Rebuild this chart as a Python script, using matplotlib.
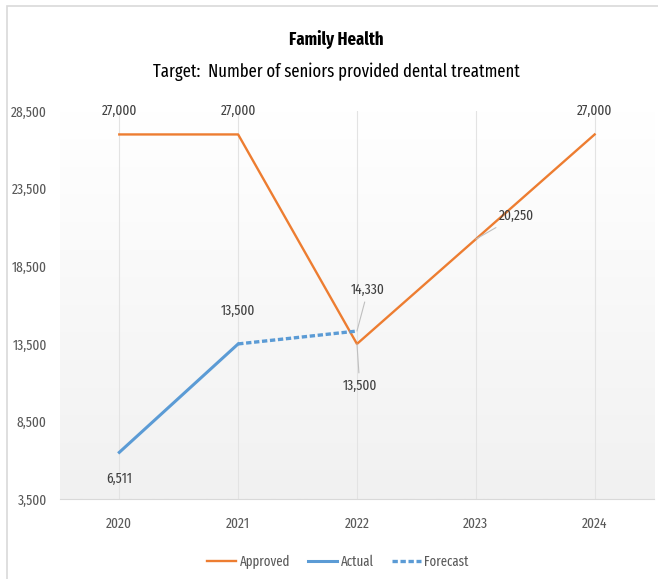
import numpy as np
import matplotlib
matplotlib.use("Agg")
import matplotlib.pyplot as plt
from matplotlib.patches import Rectangle
from matplotlib.colors import LinearSegmentedColormap

plt.rcParams['font.family'] = ['Fira Sans Extra Condensed', 'Carlito', 'DejaVu Sans']

years = ["2020", "2021", "2022", "2023", "2024"]
approved = [27000, 27000, 13500, 20250, 27000]
actual_idx = [0, 1]
actual = [6511, 13500]
forecast_idx = [1, 2]
forecast = [13500, 14330]
yticks = [3500, 8500, 13500, 18500, 23500, 28500]

orange = "#ED7D31"
blue = "#5B9BD5"
grey_txt = "#595959"

fig = plt.figure(figsize=(6.58, 5.79), dpi=100)
# chart border (only the top and left edges show in the picture)
fig.patches.append(Rectangle((0.011, -0.1), 1.1, 1.089, transform=fig.transFigure,
                             fill=False, edgecolor="#d9d9d9", linewidth=1.2))

ax = fig.add_axes([0.091, 0.138, 0.903, 0.670])
x = np.arange(len(years))
ax.set_xlim(-0.5, 4.5)
ax.set_ylim(3500, 28500)

# gradient background, white at top to light grey at bottom
cmap = LinearSegmentedColormap.from_list("g", ["#f1f1f1", "#ffffff"])
grad = np.linspace(1.0, 0.0, 256).reshape(-1, 1)
ax.imshow(grad, extent=[-0.5, 4.5, 3500, 28500], aspect="auto", cmap=cmap,
          origin="upper", zorder=0, vmin=0, vmax=1)

for xi in x:
    ax.axvline(xi, color="#e3e3e3", linewidth=0.8, zorder=1)

ax.plot(x, approved, color=orange, linewidth=1.7, label="Approved", zorder=3)
ax.plot(actual_idx, actual, color=blue, linewidth=2.2, label="Actual", zorder=3)
ax.plot(forecast_idx, forecast, color=blue, linewidth=2.4, linestyle=(0, (1.6, 0.8)), label="Forecast", zorder=3)

for s in ["top", "right", "left"]:
    ax.spines[s].set_visible(False)
ax.spines["bottom"].set_color("#d9d9d9")

ax.set_xticks(x)
ax.set_xticklabels(years)
ax.set_yticks(yticks)
ax.set_yticklabels([f"{v:,}" for v in yticks])
ax.tick_params(axis="both", length=0, colors=grey_txt, labelsize=10.5)
ax.tick_params(axis="x", pad=13)
ax.tick_params(axis="y", pad=9.5)

lab = dict(fontsize=10.5, color="#404040", ha="center", va="center")
lead = dict(arrowstyle="-", color="#bfbfbf", linewidth=0.8, shrinkA=2, shrinkB=0)

ax.annotate(f"{approved[0]:,}", (0, approved[0]), xytext=(0, 17), textcoords="offset points", **lab)
ax.annotate(f"{approved[1]:,}", (1, approved[1]), xytext=(0, 17), textcoords="offset points", **lab)
ax.annotate(f"{approved[4]:,}", (4, approved[4]), xytext=(0, 17), textcoords="offset points", **lab)
ax.annotate(f"{approved[2]:,}", (2, approved[2]), xytext=(2, -30), textcoords="offset points",
            arrowprops=lead, **lab)
ax.annotate(f"{approved[3]:,}", (3, approved[3]), xytext=(29.5, 17), textcoords="offset points",
            arrowprops=dict(lead, shrinkA=3), **lab)
ax.annotate(f"{forecast[1]:,}", (2, forecast[1]), xytext=(8, 30), textcoords="offset points",
            arrowprops=lead, **lab)
ax.annotate(f"{actual[1]:,}", (1, actual[1]), xytext=(0, 24), textcoords="offset points", **lab)
ax.annotate(f"{actual[0]:,}", (0, actual[0]), xytext=(0, -19), textcoords="offset points", **lab)

fig.text(0.511, 0.931, "Family Health", ha="center", va="center", fontsize=13, fontweight="bold", color="#000000")
fig.text(0.511, 0.876, "Target:  Number of seniors provided dental treatment", ha="center", va="center",
         fontsize=13, color="#000000")

leg = ax.legend(loc="upper center", bbox_to_anchor=(0.468, -0.11), ncol=3, frameon=False,
                fontsize=10, handlelength=2.1, columnspacing=1.3, handletextpad=0.25)
for t in leg.get_texts():
    t.set_color(grey_txt)

fig.savefig("out.png", dpi=100)
